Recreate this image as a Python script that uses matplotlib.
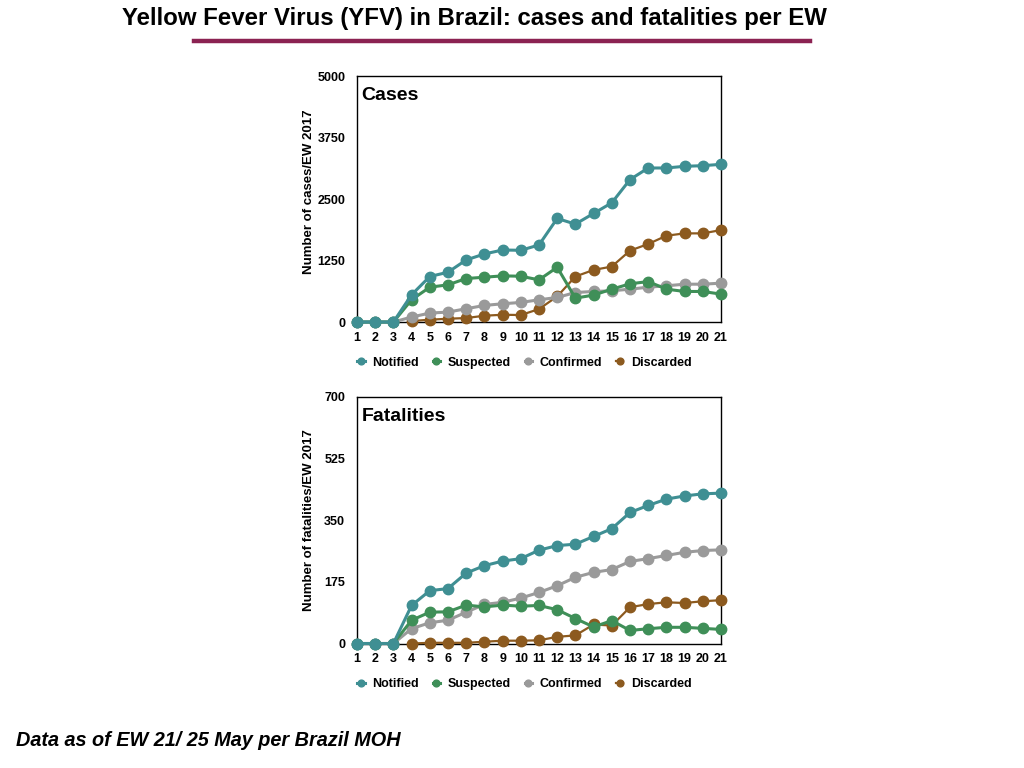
import matplotlib
matplotlib.use("Agg")
import matplotlib.pyplot as plt
import numpy as np

plt.rcParams['font.family'] = ['Liberation Sans', 'DejaVu Sans']

weeks = list(range(1, 22))
nan = np.nan

# cases per EW
cases_notified = [0, 0, 0, 553, 925, 1012, 1262, 1383, 1464, 1458, 1566, 2105, 1990, 2207, 2423, 2895, 3131, 3131, 3165, 3178, 3205]
cases_suspected = [0, 0, 0, 452, 708, 756, 884, 911, 938, 931, 857, 1113, 486, 547, 668, 776, 823, 668, 621, 621, 567]
cases_confirmed = [0, 0, 0, 101, 182, 202, 270, 337, 371, 398, 452, 499, 600, 621, 634, 668, 708, 736, 769, 769, 790]
cases_discarded = [nan, nan, nan, 20, 47, 67, 81, 128, 148, 142, 263, 520, 925, 1059, 1127, 1451, 1586, 1754, 1802, 1802, 1869]

# fatalities per EW
fat_notified = [0, 0, 0, 108, 150, 156, 200, 221, 234, 241, 265, 278, 282, 304, 326, 372, 392, 410, 419, 425, 427]
fat_suspected = [0, 0, 0, 66, 89, 90, 109, 104, 109, 106, 108, 96, 71, 47, 65, 37, 42, 46, 46, 43, 40]
fat_confirmed = [0, 0, 0, 42, 59, 66, 89, 111, 117, 129, 145, 164, 188, 202, 210, 233, 241, 250, 259, 264, 266]
fat_discarded = [nan, nan, nan, 0, 2, 2, 2, 5, 8, 8, 9, 19, 23, 54, 51, 103, 112, 117, 115, 120, 123]

labels = ['Notified', 'Suspected', 'Confirmed', 'Discarded']
colors = ['#3f8f93', '#3f8f58', '#9a9a9a', '#8c5a1f']

fig = plt.figure(figsize=(10.24, 7.68), dpi=100)

def draw_panel(rect, series, ymax, yticks, ylabel, name, label_y):
    ax = fig.add_axes(rect)
    # draw in back-to-front order so notified sits on top
    order = [3, 2, 1, 0]
    for i in order:
        ax.plot(weeks, series[i], color=colors[i], marker='o', markersize=7.5,
                linewidth=2.2 if i != 3 else 1.6, label=labels[i], clip_on=False, zorder=3 + (3 - i))
    ax.set_xlim(1, 21)
    ax.set_ylim(0, ymax)
    ax.set_xticks(weeks)
    ax.set_yticks(yticks)
    ax.tick_params(axis='y', length=0, labelsize=9, pad=8.5)
    ax.tick_params(axis='x', length=0, labelsize=9, pad=7)
    for t in ax.get_xticklabels() + ax.get_yticklabels():
        t.set_fontweight('bold')
    ax.set_ylabel(ylabel, fontsize=9.5, fontweight='bold')
    ax.yaxis.set_label_coords(-0.115, label_y)
    ax.text(0.013, 0.955, name, transform=ax.transAxes, fontsize=14,
            fontweight='bold', va='top', ha='left')
    for s in ax.spines.values():
        s.set_linewidth(1.0)
    handles, labs = ax.get_legend_handles_labels()
    handles = handles[::-1]
    labs = labs[::-1]
    leg = ax.legend(handles, labs, loc='upper center', bbox_to_anchor=(0.46, -0.095),
                    ncol=4, frameon=False, fontsize=9, handlelength=0.6,
                    columnspacing=1.1, handletextpad=0.6, markerscale=0.65)
    for t in leg.get_texts():
        t.set_fontweight('bold')
    return ax

draw_panel([0.3486, 0.5807, 0.3555, 0.3203],
           [cases_notified, cases_suspected, cases_confirmed, cases_discarded],
           5000, [0, 1250, 2500, 3750, 5000], 'Number of cases/EW 2017', 'Cases', 0.53)
draw_panel([0.3486, 0.1621, 0.3555, 0.3210],
           [fat_notified, fat_suspected, fat_confirmed, fat_discarded],
           700, [0, 175, 350, 525, 700], 'Number of fatalities/EW 2017', 'Fatalities', 0.5)

fig.text(0.463, 1 - 19 / 768, 'Yellow Fever Virus (YFV) in Brazil: cases and fatalities per EW',
         fontsize=17.3, fontweight='bold', ha='center', va='center')
fig.add_artist(plt.Line2D([194 / 1024, 810 / 1024], [1 - 41 / 768, 1 - 41 / 768],
                          color='#8b2252', linewidth=3.2, transform=fig.transFigure))
fig.text(16 / 1024, 1 - 741 / 768, 'Data as of EW 21/ 25 May per Brazil MOH',
         fontsize=14.3, fontweight='bold', fontstyle='italic', ha='left', va='center')

fig.savefig('out.png', dpi=100)
